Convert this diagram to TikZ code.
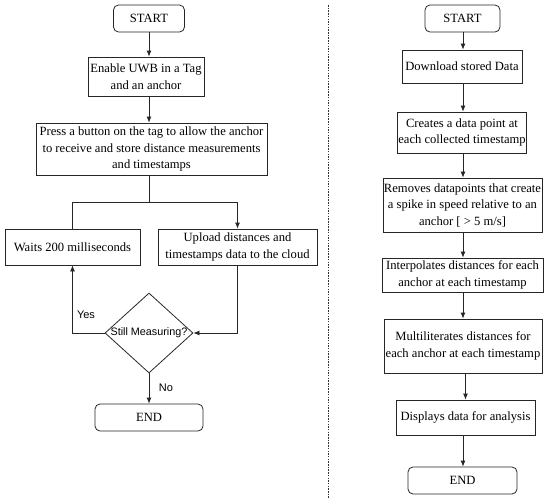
\documentclass[tikz,border=0pt]{standalone}
\usepackage{fontspec}
\setmainfont{Liberation Serif}
\newfontfamily\sansf{Liberation Sans}
\usetikzlibrary{shapes.geometric,arrows.meta}
\tikzset{
  box/.style={draw=black!85, line width=0.8pt, rectangle, align=center, inner sep=1pt,
    font=\fontsize{12.6}{16.5}\selectfont},
  term/.style={box, rounded corners=5pt},
  dec/.style={draw=black!85, line width=0.8pt, diamond, aspect=1.1, inner sep=0pt,
    font=\sansf\fontsize{10.8}{13}\selectfont},
  lab/.style={font=\sansf\fontsize{11}{13}\selectfont, inner sep=0pt},
  conn/.style={draw=black!85, line width=0.8pt},
  arr/.style={conn, -{Latex[length=6pt,width=5pt]}},
  divider/.style={draw=black!80, line width=0.8pt, dash pattern=on 1.5pt off 1.2pt}
}
\begin{document}
\begin{tikzpicture}[x=1pt,y=-1pt]
\useasboundingbox (0,0) rectangle (550,504);
% left flow
\node[term, minimum width=71, minimum height=27] (startL) at (149,18.5) {START};
\node[box, minimum width=116, minimum height=39] (enable) at (146,76.5) {Enable UWB in a Tag\\and an anchor};
\node[box, minimum width=231, minimum height=52] (press) at (151.5,149) {Press a button on the tag to allow the anchor\\to receive and store distance measurements\\and timestamps};
\node[box, minimum width=135, minimum height=36] (waits) at (72.5,247) {Waits 200 milliseconds};
\node[box, minimum width=159, minimum height=36] (upload) at (237.5,247) {Upload distances and\\timestamps data to the cloud};
\node[dec, minimum width=88, minimum height=80] (dec) at (149,333) {Still Measuring?};
\node[term, minimum width=108, minimum height=27] (endL) at (149,417.5) {END};
\coordinate (j) at (149,202);
\draw[arr] (startL.south) -- (startL.south |- enable.north);
\draw[arr] (enable.south -| startL.south) -- (press.north -| startL.south);
\draw[conn] (press.south -| j) -- (j);
\draw[conn] (waits.north) |- (j);
\draw[arr] (j) -| (upload.north);
\draw[arr] (dec.west) -| (waits.south);
\draw[arr] (upload.south) |- (dec.east);
\draw[arr] (dec.south) -- (endL.north);
\node[lab] (yes) at (86,315) {Yes};
\node[lab] (no) at (166,388) {No};
% divider
\coordinate (dtop) at (328,5);
\coordinate (dbot) at (328,498);
\draw[divider] (dtop) -- (dbot);
% right flow
\coordinate (cR) at (463,0);
\node[term, minimum width=75, minimum height=27] (startR) at (462.5,18.5) {START};
\node[box, minimum width=120, minimum height=33] (download) at (462,66.5) {Download stored Data};
\node[box, minimum width=128, minimum height=41] (creates) at (462,132.5) {Creates a data point at\\each collected timestamp};
\node[box, minimum width=145, minimum height=54] (removes) at (462.5,205) {Removes datapoints that create\\a spike in speed relative to an\\anchor [ > 5 m/s]};
\node[box, minimum width=161, minimum height=34] (interp) at (462.5,275) {Interpolates distances for each\\anchor at each timestamp};
\node[box, minimum width=158, minimum height=54] (multi) at (463,346) {Multiliterates distances for\\each anchor at each timestamp};
\node[box, minimum width=139, minimum height=35] (displays) at (465.5,417.5) {Displays data for analysis};
\node[term, minimum width=109, minimum height=27] (endR) at (462.5,480.5) {END};
\draw[arr] (startR.south -| cR) -- (download.north -| cR);
\draw[arr] (download.south -| cR) -- (creates.north -| cR);
\draw[arr] (creates.south -| cR) -- (removes.north -| cR);
\draw[arr] (removes.south -| cR) -- (interp.north -| cR);
\draw[arr] (interp.south -| cR) -- (multi.north -| cR);
\draw[arr] (multi.south -| displays.south) -- (displays.north);
\draw[arr] (displays.south -| cR) -- (endR.north -| cR);
\end{tikzpicture}
\end{document}
